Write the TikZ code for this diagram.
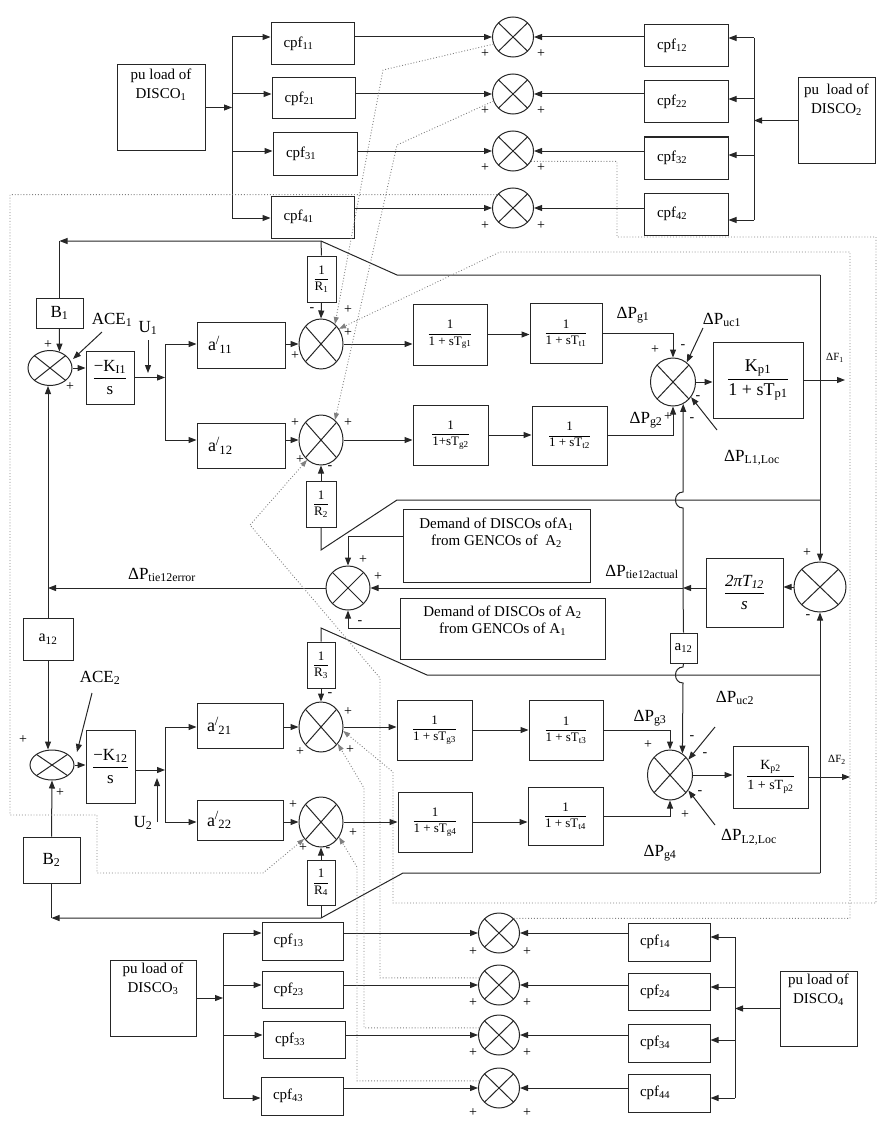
\documentclass[tikz,border=0pt]{standalone}
\usepackage{amsmath}
\usepackage{fontspec}
\setmainfont{Liberation Serif}
\usetikzlibrary{arrows.meta,shapes.geometric,calc}
\newcommand{\fs}[2]{\fontsize{#1}{#2}\selectfont}
\newcommand{\fr}[2]{$\dfrac{\text{#1}}{\text{#2}}$}
\newcommand{\ap}[1]{a\textsuperscript{/}\kern-0.5pt\textsubscript{#1}}
\newcommand{\bx}[7][]{\node[blk,minimum width={#5pt-#3pt},minimum height={#6pt-#4pt},#1] (#2) at ({(#3+#5)/2},{(#4+#6)/2}) {#7};}
\newcommand{\sm}[5]{\node[sumn,minimum width=#4pt,minimum height=#5pt] (#1) at (#2,#3) {};}
\tikzset{
  ln/.style={line width=1pt, draw=black!85},
  ar/.style={ln, -{Triangle[length=8pt,width=6pt]}},
  dl/.style={line width=0.9pt, draw=black!50, dotted},
  dar/.style={dl, -{Triangle[length=7pt,width=5pt]}},
  blk/.style={ln, rectangle, inner sep=1pt, align=center, font=\fs{15}{17}},
  cpfb/.style={text width=58pt, align=left, font=\fs{15}{17}},
  apb/.style={text width=66pt, align=left, font=\fs{18}{20}},
  sumn/.style={ln, ellipse, inner sep=0pt, path picture={\draw[line width=1pt, black!85] (path picture bounding box.south west) -- (path picture bounding box.north east) (path picture bounding box.north west) -- (path picture bounding box.south east);}},
  sg/.style={inner sep=0pt, font=\fs{14}{14}},
  lab/.style={inner sep=0pt, font=\fs{17}{19}},
  sml/.style={inner sep=0pt, font=\fs{11}{12}},
  dtxt/.style={inner sep=0pt, anchor=north, align=center, font=\fs{15}{19}},
}
\begin{document}
\begin{tikzpicture}[x=1pt,y=-1pt]
\useasboundingbox (0,0) rectangle (878,1121);

% ---------------- top DISCO section ----------------
\bx{D1}{117}{65}{205}{150}{}
\node[dtxt] at ([yshift=-4pt]D1.north) {pu load of\\DISCO\textsubscript{1}};
\bx{D2}{798}{78}{875}{163}{}
\node[dtxt] at ([yshift=-6pt]D2.north) {pu\ \ load of\\DISCO\textsubscript{2}};
\bx[cpfb]{c11}{271}{23}{354}{65}{cpf\textsubscript{11}}
\bx[cpfb]{c21}{272}{78}{355}{119}{cpf\textsubscript{21}}
\bx[cpfb]{c31}{273}{133}{357}{175}{cpf\textsubscript{31}}
\bx[cpfb]{c41}{271}{196}{354}{238}{cpf\textsubscript{41}}
\bx[cpfb]{c12}{644}{25}{728}{67}{cpf\textsubscript{12}}
\bx[cpfb]{c22}{644}{81}{728}{123}{cpf\textsubscript{22}}
\bx[cpfb]{c32}{644}{137}{728}{179}{cpf\textsubscript{32}}
\bx[cpfb]{c42}{644}{193}{728}{235}{cpf\textsubscript{42}}
\sm{S1}{513}{37}{41}{40}
\sm{S2}{513}{94}{41}{40}
\sm{S3}{513}{151}{41}{40}
\sm{S4}{513}{208}{41}{40}
\coordinate (TL) at (232,107.5);
\coordinate (TL4) at (232,218);
\draw[ar] (D1.east) -- (TL);
\draw[ln] (TL |- S1) -- (TL4);
\draw[ar] (TL |- S1) -- (c11.west |- S1);
\draw[ar] (TL |- S2) -- (c21.west |- S2);
\draw[ar] (TL |- S3) -- (c31.west |- S3);
\draw[ar] (TL4) -- (c41.west |- TL4);
\draw[ar] (c11.east |- S1) -- (S1.west);
\draw[ar] (c21.east |- S2) -- (S2.west);
\draw[ar] (c31.east |- S3) -- (S3.west);
\draw[ar] (c41.east |- S4) -- (S4.west);
\coordinate (TR) at (754,120.5);
\coordinate (TR1) at (754,38);
\coordinate (TR2) at (754,99);
\coordinate (TR3) at (754,155);
\coordinate (TR4) at (754,220);
\draw[ar] (D2.west) -- (TR);
\draw[ln] (TR1) -- (TR4);
\draw[ar] (TR1) -- (c12.east |- TR1);
\draw[ar] (TR2) -- (c22.east |- TR2);
\draw[ar] (TR3) -- (c32.east |- TR3);
\draw[ar] (TR4) -- (c42.east |- TR4);
\draw[ar] (c12.west |- S1) -- (S1.east);
\draw[ar] (c22.west |- S2) -- (S2.east);
\draw[ar] (c32.west |- S3) -- (S3.east);
\draw[ar] (c42.west |- S4) -- (S4.east);
\foreach \y in {54,111,168,226} {\node[sg] at (485,\y) {+}; \node[sg] at (541,\y) {+};}

% ---------------- bottom DISCO section ----------------
\bx{D3}{110}{960}{196}{1036}{}
\node[dtxt] at ([yshift=-3pt]D3.north) {pu load of\\DISCO\textsubscript{3}};
\bx{D4}{780}{971}{857}{1046}{}
\node[dtxt] at ([yshift=-3pt]D4.north) {pu load of\\DISCO\textsubscript{4}};
\bx[cpfb]{c13}{262}{922}{343}{960}{cpf\textsubscript{13}}
\bx[cpfb]{c23}{262}{971}{343}{1008}{cpf\textsubscript{23}}
\bx[cpfb]{c33}{263}{1021}{345}{1058}{cpf\textsubscript{33}}
\bx[cpfb]{c43}{261}{1077}{343}{1115}{cpf\textsubscript{43}}
\bx[cpfb]{c14}{628}{923}{710}{961}{cpf\textsubscript{14}}
\bx[cpfb]{c24}{628}{973}{710}{1010}{cpf\textsubscript{24}}
\bx[cpfb]{c34}{628}{1024}{710}{1062}{cpf\textsubscript{34}}
\bx[cpfb]{c44}{628}{1074}{710}{1112}{cpf\textsubscript{44}}
\sm{BS1}{499}{933}{41}{40}
\sm{BS2}{499}{985}{41}{40}
\sm{BS3}{499}{1035}{41}{40}
\sm{BS4}{499}{1088}{41}{40}
\coordinate (BL) at (223,998);
\coordinate (BL4) at (223,1098);
\draw[ar] (D3.east) -- (BL);
\draw[ln] (BL |- BS1) -- (BL4);
\draw[ar] (BL |- BS1) -- (c13.west |- BS1);
\draw[ar] (BL |- BS2) -- (c23.west |- BS2);
\draw[ar] (BL |- BS3) -- (c33.west |- BS3);
\draw[ar] (BL4) -- (c43.west |- BL4);
\draw[ar] (c13.east |- BS1) -- (BS1.west);
\draw[ar] (c23.east |- BS2) -- (BS2.west);
\draw[ar] (c33.east |- BS3) -- (BS3.west);
\draw[ar] (c43.east |- BS4) -- (BS4.west);
\coordinate (BR) at (735,1008.5);
\coordinate (BR1) at (735,937);
\coordinate (BR2) at (735,987);
\coordinate (BR3) at (735,1040);
\coordinate (BR4) at (735,1098);
\draw[ar] (D4.west) -- (BR);
\draw[ln] (BR1) -- (BR4);
\draw[ar] (BR1) -- (c14.east |- BR1);
\draw[ar] (BR2) -- (c24.east |- BR2);
\draw[ar] (BR3) -- (c34.east |- BR3);
\draw[ar] (BR4) -- (c44.east |- BR4);
\draw[ar] (c14.west |- BS1) -- (BS1.east);
\draw[ar] (c24.west |- BS2) -- (BS2.east);
\draw[ar] (c34.west |- BS3) -- (BS3.east);
\draw[ar] (c44.west |- BS4) -- (BS4.east);
\foreach \y in {952,1003,1053,1113} {\node[sg] at (473,\y) {+}; \node[sg] at (527,\y) {+};}

% ---------------- area 1 ----------------
\bx[font=\fs{17}{19}]{B1b}{36}{298}{83}{328}{B\textsubscript{1}}
\sm{ACE1}{50}{368}{44}{35}
\bx[font=\fs{17}{19}]{K1}{86}{351}{134}{404}{\fr{−K\textsubscript{I1}}{s}}
\bx[apb]{a11}{197}{322}{285}{368}{\ap{11}}
\bx[apb]{a12}{197}{423}{285}{468}{\ap{12}}
\sm{G1}{321}{344}{44}{50}
\sm{G2}{321}{440}{44}{50}
\bx[font=\fs{13}{14}]{R1}{307}{256}{336}{302}{\fr{1}{R\textsubscript{1}}}
\bx[font=\fs{13}{14}]{R2}{306}{481}{336}{527}{\fr{1}{R\textsubscript{2}}}
\bx[font=\fs{13}{14}]{Tg1}{413}{304}{487}{365}{\fr{1}{1 + sT\textsubscript{g1}}}
\bx[font=\fs{13}{14}]{Tt1}{530}{303}{602}{363}{\fr{1}{1 + sT\textsubscript{t1}}}
\bx[font=\fs{13}{14}]{Tg2}{413}{405}{488}{465}{\fr{1}{1+sT\textsubscript{g2}}}
\bx[font=\fs{13}{14}]{Tt2}{532}{406}{607}{465}{\fr{1}{1 + sT\textsubscript{t2}}}
\sm{P1}{673}{382}{45}{48}
\bx[font=\fs{18}{20}]{Kp1}{713}{342}{803}{418}{\fr{K\textsubscript{p1}}{1 + sT\textsubscript{p1}}}

% ---------------- tie line ----------------
\sm{T}{820}{587}{52}{50}
\bx[font=\fs{17}{19}]{TT}{706}{558}{783}{627}{\fr{\itshape 2πT\textsubscript{12}}{\itshape s}}
\sm{E}{348}{588}{44}{44}
\bx{DemA}{403}{509}{590}{582}{}
\node[dtxt, font=\fs{15}{17}] at ([yshift=-9pt]DemA.north) {Demand of DISCOs ofA\textsubscript{1}\\from GENCOs of\ \ A\textsubscript{2}};
\bx{DemB}{400}{598}{605}{659}{}
\node[dtxt, font=\fs{15}{17}] at ([yshift=-8pt]DemB.north) {Demand of DISCOs of A\textsubscript{2}\\from GENCOs of A\textsubscript{1}};
\bx[font=\fs{16}{18}]{a12L}{23}{618}{73}{660}{a\textsubscript{12}}
\bx[font=\fs{15}{17}, inner sep=0pt]{a12R}{670}{633}{697}{663}{a\textsubscript{12}}

% ---------------- area 2 ----------------
\sm{ACE2}{52}{765}{44}{30}
\bx[font=\fs{17}{19}]{K2}{86}{730}{135}{803}{\fr{−K\textsubscript{12}}{s}}
\bx[apb]{a21}{197}{703}{283}{748}{\ap{21}}
\bx[apb]{a22}{197}{800}{283}{840}{\ap{22}}
\sm{G3}{321}{727}{44}{50}
\sm{G4}{321}{822}{44}{50}
\bx[font=\fs{13}{14}]{R3}{307}{642}{335}{688}{\fr{1}{R\textsubscript{3}}}
\bx[font=\fs{13}{14}]{R4}{307}{860}{335}{905}{\fr{1}{R\textsubscript{4}}}
\bx[font=\fs{13}{14}]{Tg3}{397}{700}{472}{760}{\fr{1}{1 + sT\textsubscript{g3}}}
\bx[font=\fs{13}{14}]{Tt3}{529}{700}{603}{760}{\fr{1}{1 + sT\textsubscript{t3}}}
\bx[font=\fs{13}{14}]{Tg4}{398}{792}{472}{852}{\fr{1}{1 + sT\textsubscript{g4}}}
\bx[font=\fs{13}{14}]{Tt4}{528}{787}{603}{845}{\fr{1}{1 + sT\textsubscript{t4}}}
\sm{P2}{670}{775}{45}{50}
\bx[font=\fs{14}{15}]{Kp2}{733}{746}{808}{808}{\fr{K\textsubscript{p2}}{1 + sT\textsubscript{p2}}}
\bx[font=\fs{17}{19}]{B2b}{23}{837}{80}{883}{B\textsubscript{2}}

% ---------------- area 1 connections ----------------
\coordinate (F1a) at (820,275);
\coordinate (F1b) at (397,275);
\coordinate (F1c) at (321,241);
\coordinate (F1d) at (59.5,241);
\draw[ar] (F1a) -- (F1b) -- (F1c) -- (F1d);
\draw[ln] (F1d) -- (B1b.north);
\draw[ln] (F1c) -- (R1.north);
\draw[ar] (R1.south) -- (G1.north);
\draw[ar] (F1a) -- (T.north);
\draw[ar] (B1b.south) -- (ACE1.60);
\draw[ar] (ACE1.east) -- (ACE1.east -| K1.west);
\coordinate (br1) at (165,377.5);
\draw[ar] (K1.east) -- (br1);
\draw[ar] (br1) |- (a11.west |- G1.west);
\draw[ar] (br1) |- (a12.west |- G2.west);
\draw[ar] (a11.east |- G1.west) -- (G1.west);
\draw[ar] (a12.east |- G2.west) -- (G2.west);
\draw[ar] (G1.east) -- (Tg1.west |- G1.east);
\draw[ar] (G2.east) -- (Tg2.west |- G2.east);
\draw[ar] (Tg1.east) -- (Tg1.east -| Tt1.west);
\draw[ar] (Tg2.east) -- (Tg2.east -| Tt2.west);
\draw[ar] (Tt1.east) -| (P1.north);
\draw[ar] (Tt2.east) -| (P1.south);
\draw[ar] (P1.east) -- (P1.east -| Kp1.west);
\coordinate (F1o) at (845,380);
\draw[ar] (Kp1.east) -- (F1o);
\coordinate (F1e) at (820,500);
\coordinate (F1f) at (397,500);
\coordinate (F1g) at (321,550);
\draw[ln] (F1e) -- (F1f) -- (F1g) -- (R2.south);
\draw[ar] (R2.north) -- (G2.south);
\coordinate (puc1a) at (703,328);
\draw[ar] (puc1a) -- (P1.55);
\coordinate (pl1a) at (717,430);
\draw[ar] (pl1a) -- (P1.-40);
\coordinate (ace1a) at (102,332);
\draw[ar] (ace1a) -- (73,359);
\coordinate (u1a) at (148,340);
\draw[ar] (u1a) -- (148,373);

% ---------------- tie connections ----------------
\coordinate (tj) at (683,588);
\draw[ar] (T.west) -- (TT.east |- T.west);
\draw[ar] (TT.west |- tj) -- (tj);
\draw[ar] (tj) -- (E.east);
\draw[ar] (tj) -- (683,508) .. controls (673,508) and (673,492) .. (683,492) -- (P1.-65);
\draw[ln] (tj) -- (a12R.north);
\draw[ar] (a12R.south) -- (683,667) .. controls (673,667) and (673,683) .. (683,683) -- (P2.60);
\draw[ar] ([yshift=9pt]DemA.west) -| (E.north);
\draw[ar] (DemB.west) -| (E.south);
\draw[ar] (E.west) -- (E.west -| a12L.north);
\draw[ar] (a12L.north) -- (a12L.north |- ACE1.south);
\draw[ar] (a12L.south) -- (a12L.south |- ACE2.north);

% ---------------- area 2 connections ----------------
\coordinate (F2a) at (820,873);
\coordinate (F2b) at (403,873);
\coordinate (F2c) at (321,918);
\coordinate (F2d) at (51.5,918);
\draw[ar] (F2a) -- (T.south);
\draw[ar] (F2a) -- (F2b) -- (F2c) -- (F2d);
\draw[ln] (F2d) -- (B2b.south);
\draw[ln] (F2c) -- (R4.south);
\draw[ar] (R4.north) -- (G4.south);
\draw[ar] (B2b.north) -- (ACE2.south);
\coordinate (F2e) at (820,675);
\coordinate (F2f) at (427,675);
\coordinate (F2g) at (321,628);
\draw[ln] (F2e) -- (F2f) -- (F2g) -- (R3.north);
\draw[ar] (R3.south) -- (G3.north);
\draw[ar] (ACE2.east) -- (ACE2.east -| K2.west);
\coordinate (br2) at (165,770);
\draw[ar] (K2.east |- br2) -- (br2);
\draw[ar] (br2) |- (a21.west |- G3.west);
\draw[ar] (br2) |- (a22.west |- G4.west);
\draw[ar] (a21.east |- G3.west) -- (G3.west);
\draw[ar] (a22.east |- G4.west) -- (G4.west);
\draw[ar] (G3.east) -- (Tg3.west |- G3.east);
\draw[ar] (G4.east) -- (Tg4.west |- G4.east);
\draw[ar] (Tg3.east) -- (Tg3.east -| Tt3.west);
\draw[ar] (Tg4.east) -- (Tg4.east -| Tt4.west);
\draw[ar] (Tt3.east) -| (P2.north);
\draw[ar] (Tt4.east) -| (P2.south);
\draw[ar] (P2.east) -- (P2.east -| Kp2.west);
\coordinate (F2o) at (850,777);
\draw[ar] (Kp2.east) -- (F2o);
\coordinate (puc2a) at (715,727);
\draw[ar] (puc2a) -- (P2.40);
\coordinate (pl2a) at (715,825);
\draw[ar] (pl2a) -- (P2.-40);
\coordinate (ace2a) at (92,693);
\draw[ar] (ace2a) -- (77,752);
\coordinate (u2a) at (157,822);
\draw[ar] (u2a) -- (157,778);

% ---------------- dotted cpf sums ----------------
\draw[dar] (S1.200) -- (383,70) -- (G1.55);
\draw[dar] (S2.200) -- (397,145) -- (G2.55);
\draw[dar] (BS1.45) -| (850,252) -- (500,252) -- (G1.40);
\draw[dar] (S3.-30) -| (617,237) -| (876,903) -| (393,772) -- (G3.-10);
\draw[dar] (BS3.160) -| (364,788) -- (G3.-45);
\draw[dar] (BS2.160) -| (380,678) -- (250,525) -- (G2.-125);
\draw[dar] (S4.140) -| (10,815) -| (97,873) -- (263,873) -- (G4.-135);
\draw[dar] (BS4.160) -| (357,867) -- (G4.-40);

% ---------------- signs ----------------
\foreach \x/\y/\s in {48/345/+, 70/387/+, 312/310/-, 348/310/+, 348/333/+, 295/356/+,
  295/423/+, 348/423/+, 300/460/+, 330/468/-, 655/350/+, 683/347/-, 698/398/-, 692/420/-, 668/417/+,
  363/560/+, 378/577/+, 360/623/-, 807/553/+, 808/617/-,
  23/740/+, 60/793/+, 330/695/-, 348/712/+, 350/750/+, 300/752/+,
  293/805/+, 303/848/+, 328/850/-, 353/833/+,
  648/745/+, 692/738/-, 705/755/-, 700/793/-, 685/815/+}
  {\node[sg] at (\x,\y) {\s};}

% ---------------- labels ----------------
\node[lab] at (112,320) {ACE\textsubscript{1}};
\node[lab] at (148,328) {U\textsubscript{1}};
\node[lab] at (100,678) {ACE\textsubscript{2}};
\node[lab] at (143,823) {U\textsubscript{2}};
\node[lab] at (633,315) {ΔP\textsubscript{g1}};
\node[lab] at (646,420) {ΔP\textsubscript{g2}};
\node[lab] at (722,320) {ΔP\textsubscript{uc1}};
\node[lab] at (752,458) {ΔP\textsubscript{L1,Loc}};
\node[sml] at (835,358) {ΔF\textsubscript{1}};
\node[lab] at (642,572) {ΔP\textsubscript{tie12actual}};
\node[lab] at (162,575) {ΔP\textsubscript{tie12error}};
\node[lab] at (650,718) {ΔP\textsubscript{g3}};
\node[lab] at (735,698) {ΔP\textsubscript{uc2}};
\node[lab] at (749,837) {ΔP\textsubscript{L2,Loc}};
\node[lab] at (660,853) {ΔP\textsubscript{g4}};
\node[sml] at (837,760) {ΔF\textsubscript{2}};
\end{tikzpicture}
\end{document}
